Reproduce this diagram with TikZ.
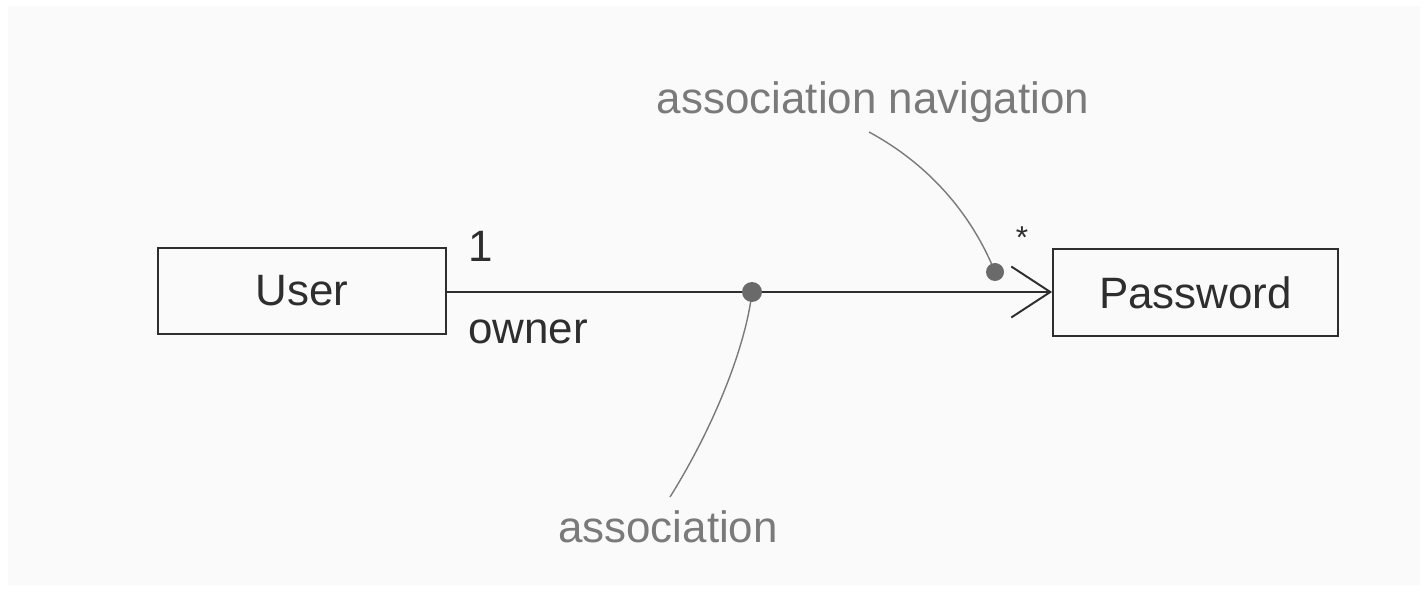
\documentclass[tikz,border=0pt]{standalone}
\usepackage{fontspec}
\setmainfont{Liberation Sans}
\usetikzlibrary{arrows.meta}
\definecolor{paper}{HTML}{FAFAFA}
\definecolor{ink}{HTML}{2E2E2E}
\definecolor{note}{HTML}{7A7A7A}
\definecolor{pin}{HTML}{6A6A6A}

\begin{document}
\begin{tikzpicture}[
    x = 0.02cm, y = -0.02cm,
    every node/.style = {font = \fontsize{25}{30}\selectfont, text = ink},
    classbox/.style = {draw = ink, line width = 1.1pt, inner sep = 0pt},
    notetext/.style = {text = note},
    notecurve/.style = {draw = note, line width = 0.8pt},
    pindot/.style = {fill = pin, draw = none}]

\useasboundingbox (0,0) rectangle (1427,591);
\fill[white] (0,0) rectangle (1427,591);
\fill[paper] (8,6) rectangle (1420,585);

\path (302,291) node[classbox, minimum width = 5.76cm, minimum height = 1.72cm](user) {User}
	  (1195.5,292.5) node[classbox, minimum width = 5.7cm, minimum height = 1.74cm](password) {Password}
	  (481,246) node(one) {1}
	  (528,332) node(owner) {owner}
	  (1022,238) node[font = \fontsize{18}{20}\selectfont](many) {*}
	  (873,102) node[notetext](navlabel) {association navigation}
	  (668,527) node[notetext](assoclabel) {association}
	  ;
\coordinate (assocdot) at (752,292);
\coordinate (navdot) at (995,272);
\coordinate (navend) at (869,132);
\coordinate (assocend) at (670,497);

\draw[ink, line width = 1.1pt,
      -{Straight Barb[length = 0.78cm, width = 1.02cm, line width = 1.1pt]}]
	  (user.east |- assocdot) -- (password.west |- assocdot);

\draw[notecurve] (assocdot) .. controls (746,345) and (715,425) .. (assocend);
\draw[notecurve] (navend) .. controls (930,165) and (972,215) .. (navdot);

\fill[pindot] (assocdot) circle [radius = 10];
\fill[pindot] (navdot) circle [radius = 9];
\end{tikzpicture}
\end{document}
